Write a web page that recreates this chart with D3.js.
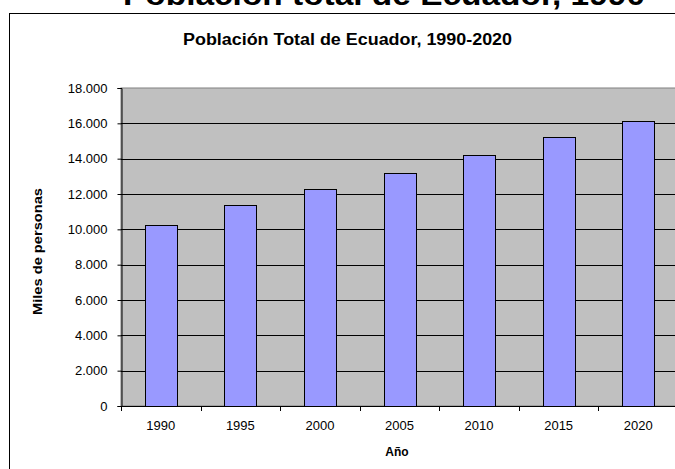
<!DOCTYPE html>
<html>
<head>
<meta charset="utf-8">
<script src="https://cdn.jsdelivr.net/npm/d3@7"></script>
<style>
  body { margin: 0; background: #fff; overflow: hidden; }
  svg { display: block; font-family: "Liberation Sans", Arial, sans-serif; }
</style>
</head>
<body>
<svg id="chart" width="675" height="469"></svg>
<script>
// datos (miles de personas)
const years = ["1990", "1995", "2000", "2005", "2010", "2015", "2020"];
const poblacion = [10264, 11400, 12290, 13180, 14180, 15200, 16140];
const yTicks = [0, 2000, 4000, 6000, 8000, 10000, 12000, 14000, 16000, 18000];

const svg = d3.select("#chart");
const margin = {top: 88, left: 121, bottom: 406, right: 678};

const data = years.map((y, i) => ({year: y, value: poblacion[i]}));

// titulo grande cortado arriba
svg.append("text")
    .attr("x", 123)
    .attr("y", 5)
    .attr("textLength", 522)
    .attr("lengthAdjust", "spacingAndGlyphs")
    .style("font-size", "30px")
    .style("font-weight", "bold")
    .text("Población total de Ecuador, 1990");

// borde del area del grafico
svg.append("rect")
    .attr("x", 9.5).attr("y", 13.5)
    .attr("width", 700).attr("height", 500)
    .style("fill", "#fff")
    .style("stroke", "#000")
    .style("stroke-width", 1);

const x = d3.scaleBand()
    .domain(years)
    .range([margin.left, margin.right])
    .paddingInner(0.6)
    .paddingOuter(0.3);

const xCat = d3.scaleBand()
    .domain(years)
    .range([margin.left, margin.right]);

const y = d3.scaleLinear()
    .domain([0, 18000])
    .range([margin.bottom, margin.top]);

// fondo gris
svg.append("rect")
    .attr("x", margin.left)
    .attr("y", margin.top)
    .attr("width", margin.right - margin.left)
    .attr("height", margin.bottom - margin.top)
    .style("fill", "#c0c0c0")
    .style("stroke", "#808080");

// lineas de division
svg.append("g")
    .selectAll("line")
    .data(yTicks.filter(d => d > 0 && d < 18000))
    .enter().append("line")
    .attr("x1", margin.left)
    .attr("x2", margin.right)
    .attr("y1", d => Math.round(y(d)) + 0.5)
    .attr("y2", d => Math.round(y(d)) + 0.5)
    .style("stroke", "#000");

// barras
svg.append("g")
    .selectAll("rect")
    .data(data)
    .enter().append("rect")
    .attr("x", d => Math.round(x(d.year)) + 0.5)
    .attr("y", d => Math.round(y(d.value)) + 0.5)
    .attr("width", Math.round(x.bandwidth()))
    .attr("height", d => Math.round(y(0)) - Math.round(y(d.value)))
    .style("fill", "#9999ff")
    .style("stroke", "#000");

// eje y
const fmt = d => d3.format(",")(d).replace(/,/g, ".");
const yAxis = svg.append("g")
    .attr("transform", "translate(" + (margin.left + 0.5) + ",0)")
    .call(d3.axisLeft(y).tickValues(yTicks).tickFormat(fmt).tickSize(4).tickPadding(10));
yAxis.select(".domain").style("stroke", "#000");
yAxis.selectAll("text")
    .style("font-size", "13px")
    .style("font-family", "'Liberation Sans', Arial, sans-serif")
    .style("fill", "#000");

// eje x
svg.append("line")
    .attr("x1", margin.left).attr("x2", margin.right)
    .attr("y1", margin.bottom + 0.5).attr("y2", margin.bottom + 0.5)
    .style("stroke", "#000");

svg.append("g")
    .selectAll("line")
    .data(years.map(d => xCat(d)).concat([margin.right]))
    .enter().append("line")
    .attr("x1", d => Math.round(d) + 0.5)
    .attr("x2", d => Math.round(d) + 0.5)
    .attr("y1", margin.bottom)
    .attr("y2", margin.bottom + 5)
    .style("stroke", "#000");

svg.append("g")
    .selectAll("text")
    .data(years)
    .enter().append("text")
    .attr("x", d => x(d) + x.bandwidth() / 2)
    .attr("y", 430)
    .attr("text-anchor", "middle")
    .style("font-size", "13px")
    .text(d => d);

// titulos
svg.append("text")
    .attr("x", 183)
    .attr("y", 45)
    .attr("textLength", 329)
    .attr("lengthAdjust", "spacingAndGlyphs")
    .style("font-size", "16px")
    .style("font-weight", "bold")
    .text("Población Total de Ecuador, 1990-2020");

svg.append("text")
    .attr("x", 397)
    .attr("y", 456)
    .attr("text-anchor", "middle")
    .style("font-size", "12px")
    .style("font-weight", "bold")
    .text("Año");

svg.append("text")
    .attr("transform", "translate(42,315) rotate(-90)")
    .attr("textLength", 127)
    .attr("lengthAdjust", "spacingAndGlyphs")
    .style("font-size", "12px")
    .style("font-weight", "bold")
    .text("Miles de personas");
</script>
</body>
</html>
